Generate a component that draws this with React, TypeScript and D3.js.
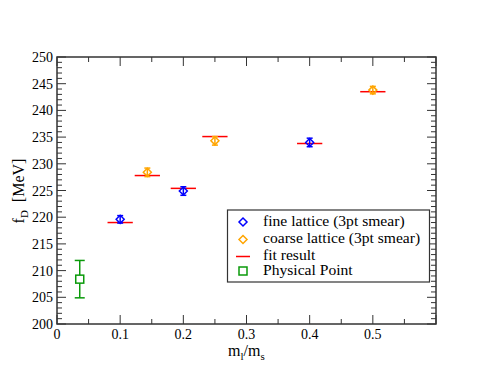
import React from "react";
import * as d3 from "d3";

const fineX = [0.1, 0.2, 0.4];
const fineY = [219.6, 224.9, 234.0];
const fineErr = [0.7, 0.8, 0.8];

const coarseX = [0.143, 0.25, 0.5];
const coarseY = [228.4, 234.3, 243.8];
const coarseErr = [0.8, 0.8, 0.7];

const fitX = [0.1, 0.143, 0.2, 0.25, 0.4, 0.5];
const fitY = [219.0, 227.8, 225.4, 235.1, 233.8, 243.5];

const physX = [0.036];
const physY = [208.4];
const physErr = [3.5];

const xTicks = [0, 0.1, 0.2, 0.3, 0.4, 0.5];
const yTicks = [200, 205, 210, 215, 220, 225, 230, 235, 240, 245, 250];

const legendLabels = ["fine lattice (3pt smear)", "coarse lattice (3pt smear)", "fit result", "Physical Point"];

const W = 491, H = 382;
const L = 57, R = 436, T = 57, B = 324;
const BLUE = "#0000ff", ORANGE = "#ffa500", RED = "#ff0000", GREEN = "#0a9a0a";
const FONT = "Liberation Serif";

export default function App() {
  const x = d3.scaleLinear().domain([0, 0.6]).range([L, R]);
  const y = d3.scaleLinear().domain([200, 250]).range([B, T]);
  const xMinor = d3.range(0, 0.6001, 0.05);
  const yMinor = d3.range(200, 250.001, 1);
  const frame = "#333";
  const diamond = (cx: number, cy: number, r: number) =>
    `M${cx},${cy - r}L${cx + r},${cy}L${cx},${cy + r}L${cx - r},${cy}Z`;

  const errBar = (cx: number, cy: number, e: number, color: string, key: string, cap = 4) => (
    <g key={key} stroke={color} strokeWidth={1.5}>
      <line x1={x(cx)} x2={x(cx)} y1={y(cy - e)} y2={y(cy + e)} />
      <line x1={x(cx) - cap} x2={x(cx) + cap} y1={y(cy - e)} y2={y(cy - e)} />
      <line x1={x(cx) - cap} x2={x(cx) + cap} y1={y(cy + e)} y2={y(cy + e)} />
    </g>
  );

  const legendSym = [222, 239.5, 256.5, 271];
  const legendBase = [225.5, 242.8, 259.6, 275];

  return (
    <svg width={W} height={H} style={{ position: "absolute", left: 0, top: 0, background: "#fff", fontFamily: FONT }}>
      <rect x={0} y={0} width={W} height={H} fill="#fff" />
      <g stroke={frame} strokeWidth={1}>
        {xMinor.map((v, i) => {
          const major = i % 2 === 0;
          const len = major ? 9 : 5;
          return (
            <g key={"xm" + i}>
              <line x1={x(v)} x2={x(v)} y1={B} y2={B - len} />
              <line x1={x(v)} x2={x(v)} y1={T} y2={T + len} />
            </g>
          );
        })}
        {yMinor.map((v, i) => {
          const major = i % 5 === 0;
          const len = major ? 9 : 5;
          return (
            <g key={"ym" + i}>
              <line x1={L} x2={L + len} y1={y(v)} y2={y(v)} />
              <line x1={R} x2={R - len} y1={y(v)} y2={y(v)} />
            </g>
          );
        })}
      </g>
      <rect x={L} y={T} width={R - L} height={B - T} fill="none" stroke={frame} strokeWidth={1.5} />
      <g fontSize={14} fill="#000" style={{ fontFamily: FONT }}>
        {xTicks.map((v) => (
          <text key={"xt" + v} x={x(v)} y={B + 15} textAnchor="middle">{v === 0 ? "0" : d3.format(".1f")(v)}</text>
        ))}
        {yTicks.map((v) => (
          <text key={"yt" + v} x={L - 4} y={y(v) + 5} textAnchor="end">{v}</text>
        ))}
      </g>
      <text x={228} y={356} fontSize={16} style={{ fontFamily: FONT }}>
        m<tspan fontSize={11} dy={4}>l</tspan><tspan dy={-4}>/m</tspan><tspan fontSize={11} dy={4}>s</tspan>
      </text>
      <text transform="translate(24,191) rotate(-90)" textAnchor="middle" fontSize={16} style={{ fontFamily: FONT }}>
        f<tspan fontSize={11} dy={4}>D</tspan><tspan dy={-4} dx={8}>[MeV]</tspan>
      </text>
      <g stroke={RED} strokeWidth={1.5}>
        {fitX.map((v, i) => (
          <line key={"f" + i} x1={x(v - 0.02)} x2={x(v + 0.02)} y1={y(fitY[i])} y2={y(fitY[i])} />
        ))}
      </g>
      {fineX.map((v, i) => errBar(v, fineY[i], fineErr[i], BLUE, "fe" + i, 3))}
      {fineX.map((v, i) => (
        <path key={"fd" + i} d={diamond(x(v), y(fineY[i]), 4)} fill="none" stroke={BLUE} strokeWidth={1.5} />
      ))}
      {coarseX.map((v, i) => errBar(v, coarseY[i], coarseErr[i], ORANGE, "ce" + i, 3))}
      {coarseX.map((v, i) => (
        <path key={"cd" + i} d={diamond(x(v), y(coarseY[i]), 4)} fill="none" stroke={ORANGE} strokeWidth={1.5} />
      ))}
      {physX.map((v, i) => errBar(v, physY[i], physErr[i], GREEN, "pe" + i, 5))}
      {physX.map((v, i) => (
        <rect key={"pr" + i} x={x(v) - 4} y={y(physY[i]) - 4} width={8} height={8} fill="#fff" stroke={GREEN} strokeWidth={1.5} />
      ))}
      <g>
        <rect x={227.5} y={210} width={202} height={72} fill="#fff" stroke={frame} strokeWidth={1.2} />
        {legendLabels.map((lab, i) => {
          const cy = legendSym[i];
          const sx = 243;
          let sym: React.ReactNode;
          if (i === 0) sym = <path d={diamond(sx, cy, 4)} fill="none" stroke={BLUE} strokeWidth={1.5} />;
          else if (i === 1) sym = <path d={diamond(sx, cy, 4)} fill="none" stroke={ORANGE} strokeWidth={1.5} />;
          else if (i === 2) sym = <line x1={sx - 7} x2={sx + 7} y1={cy} y2={cy} stroke={RED} strokeWidth={1.5} />;
          else sym = <rect x={sx - 4} y={cy - 4} width={8} height={8} fill="none" stroke={GREEN} strokeWidth={1.5} />;
          return (
            <g key={"lg" + i}>
              {sym}
              <text x={263} y={legendBase[i]} fontSize={15.6} style={{ fontFamily: FONT }}>{lab}</text>
            </g>
          );
        })}
      </g>
    </svg>
  );
}
